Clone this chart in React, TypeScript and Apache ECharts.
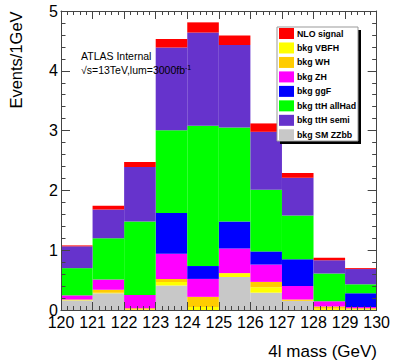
import React, { useEffect, useRef } from "react";
import * as echarts from "echarts";

// Bin low edges (GeV), each bin 1 GeV wide
const binEdges = [120, 121, 122, 123, 124, 125, 126, 127, 128, 129];
const binWidth = 1;
const xTicks = [120, 121, 122, 123, 124, 125, 126, 127, 128, 129, 130];

// Per-sample contributions (Events/1GeV), stacked bottom-up in this order
const smZZbb = [0.16, 0.28, 0, 0.41, 0, 0.55, 0.29, 0.15, 0, 0];
const vbfh = [0.005, 0.01, 0.01, 0.06, 0.05, 0.06, 0.09, 0.005, 0.02, 0.01];
const wh = [0.01, 0.05, 0.02, 0.05, 0.17, 0.01, 0.09, 0.02, 0.04, 0.02];
const zh = [0.07, 0.17, 0.22, 0.42, 0.3, 0.41, 0.29, 0.225, 0.085, 0.02];
const ggF = [0, 0, 0, 0.68, 0.215, 0.45, 0.22, 0.45, 0, 0.23];
const ttHallHad = [0.455, 0.69, 1.23, 1.385, 2.345, 1.57, 1.03, 0.73, 0.465, 0.15];
const ttHsemi = [0.365, 0.48, 0.91, 1.385, 1.56, 1.38, 0.97, 0.63, 0.22, 0.255];
const nloSignal = [0.015, 0.065, 0.085, 0.14, 0.17, 0.16, 0.14, 0.08, 0.045, 0.015];

const legendOrder = [
  "NLO signal",
  "bkg VBFH",
  "bkg WH",
  "bkg ZH",
  "bkg ggF",
  "bkg ttH allHad",
  "bkg ttH semi",
  "bkg SM ZZbb",
];

const FONT = "Liberation Sans, Arial, Helvetica, sans-serif";

export default function App() {
  const ref = useRef<HTMLDivElement>(null);

  useEffect(() => {
    if (!ref.current) return;
    const chart = echarts.init(ref.current, undefined, { renderer: "svg" });

    const layers = [
      { name: "bkg SM ZZbb", color: "#c8c8c8", values: smZZbb },
      { name: "bkg VBFH", color: "#ffff00", values: vbfh },
      { name: "bkg WH", color: "#ffcc00", values: wh },
      { name: "bkg ZH", color: "#ff00ff", values: zh },
      { name: "bkg ggF", color: "#0000ff", values: ggF },
      { name: "bkg ttH allHad", color: "#00ff00", values: ttHallHad },
      { name: "bkg ttH semi", color: "#6633cc", values: ttHsemi },
      { name: "NLO signal", color: "#ff0000", values: nloSignal },
    ];

    const cum = binEdges.map(() => 0);
    const renderItem = (params: any, api: any) => {
      const x0 = api.value(0);
      const x1 = api.value(1);
      const b = api.value(2);
      const t = api.value(3);
      if (!(t > b)) return null;
      const p0 = api.coord([x0, t]);
      const p1 = api.coord([x1, b]);
      return {
        type: "rect",
        shape: { x: p0[0], y: p0[1], width: p1[0] - p0[0], height: p1[1] - p0[1] },
        style: { fill: api.visual("color") },
      };
    };

    const series = layers.map((l) => {
      const data = binEdges.map((x, i) => {
        const base = cum[i];
        const top = base + l.values[i];
        cum[i] = top;
        return [x, x + binWidth, base, top];
      });
      return {
        type: "custom",
        name: l.name,
        renderItem,
        encode: { x: [0, 1], y: [2, 3] },
        itemStyle: { color: l.color },
        data,
        z: 2,
      };
    });

    const axisLineStyle = { color: "#444", width: 1 };

    const xBase = {
      type: "value",
      min: xTicks[0],
      max: xTicks[xTicks.length - 1],
      interval: 1,
      z: 3,
      axisLine: { show: true, onZero: false, lineStyle: axisLineStyle },
      axisTick: { show: true, inside: true, length: 8, lineStyle: axisLineStyle },
      minorTick: { show: true, splitNumber: 5, length: 4, lineStyle: axisLineStyle },
      splitLine: { show: false },
      minorSplitLine: { show: false },
    };
    const yBase = {
      type: "value",
      min: 0,
      max: 5,
      interval: 1,
      z: 3,
      axisLine: { show: true, onZero: false, lineStyle: axisLineStyle },
      axisTick: { show: true, inside: true, length: 9, lineStyle: axisLineStyle },
      minorTick: { show: true, splitNumber: 5, length: 4.5, lineStyle: axisLineStyle },
      splitLine: { show: false },
      minorSplitLine: { show: false },
    };

    chart.setOption({
      animation: false,
      backgroundColor: "#ffffff",
      grid: { left: 61, top: 11, width: 317, height: 299, containLabel: false },
      xAxis: [
        {
          ...xBase,
          position: "bottom",
          axisLabel: { fontSize: 16, color: "#000", margin: 4, fontFamily: FONT },
        },
        { ...xBase, position: "top", axisLabel: { show: false } },
      ],
      yAxis: [
        {
          ...yBase,
          position: "left",
          axisLabel: { fontSize: 16, color: "#000", margin: 3, fontFamily: FONT },
        },
        { ...yBase, position: "right", axisLabel: { show: false } },
      ],
      legend: {
        data: legendOrder,
        orient: "vertical",
        left: 279,
        top: 28,
        padding: 0,
        itemWidth: 15,
        itemHeight: 11,
        itemGap: 3.47,
        itemStyle: { borderWidth: 0 },
        icon: "rect",
        selectedMode: false,
        z: 6,
        textStyle: {
          fontSize: 8.8,
          fontWeight: "bold",
          color: "#000",
          fontFamily: FONT,
          padding: [0, 0, 0, -2],
          lineHeight: 11,
        },
      },
      graphic: [
        {
          type: "rect",
          z: 4,
          shape: { x: 280, y: 30, width: 81, height: 114 },
          style: { fill: "#000" },
        },
        {
          type: "rect",
          z: 5,
          shape: { x: 277, y: 27, width: 81, height: 114 },
          style: { fill: "#fff", stroke: "#999", lineWidth: 1 },
        },
        {
          type: "text",
          z: 5,
          x: 81,
          y: 56,
          style: {
            text: "ATLAS Internal",
            fontSize: 10.5,
            fontFamily: FONT,
            fill: "#000",
            verticalAlign: "middle",
          },
        },
        {
          type: "text",
          z: 5,
          x: 81,
          y: 69.5,
          style: {
            text: "{m|√s=13TeV,lum=3000fb}{s|-1}",
            fill: "#000",
            verticalAlign: "middle",
            rich: {
              m: { fontSize: 10.5, fontFamily: FONT, lineHeight: 12, verticalAlign: "bottom" },
              s: { fontSize: 7, fontFamily: FONT, lineHeight: 12, verticalAlign: "top" },
            },
          },
        },
        {
          type: "text",
          z: 5,
          x: 16,
          y: 60,
          rotation: Math.PI / 2,
          style: {
            text: "Events/1GeV",
            fontSize: 16.5,
            fontFamily: FONT,
            fill: "#000",
            align: "center",
            verticalAlign: "middle",
          },
        },
        {
          type: "text",
          z: 5,
          x: 377,
          y: 351.5,
          style: {
            text: "4l mass (GeV)",
            fontSize: 17,
            fontFamily: FONT,
            fill: "#000",
            align: "right",
            verticalAlign: "middle",
          },
        },
      ],
      series,
    } as any);

    return () => chart.dispose();
  }, []);

  return (
    <div
      ref={ref}
      style={{ position: "fixed", left: 0, top: 0, width: 393, height: 360 }}
    />
  );
}
